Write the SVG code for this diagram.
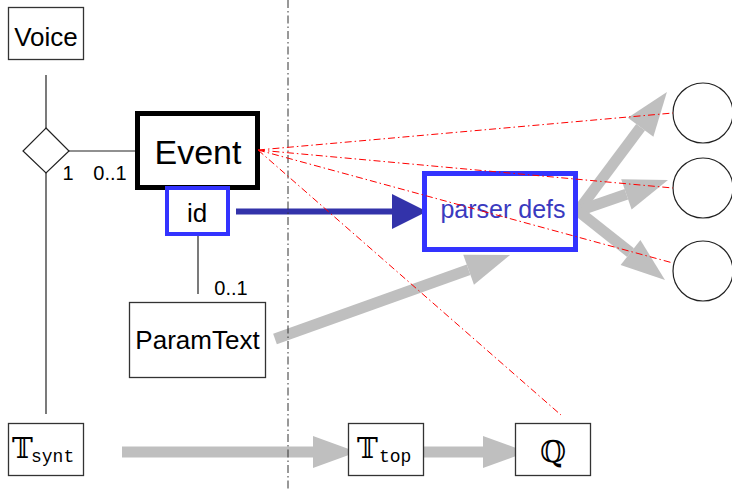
<svg xmlns="http://www.w3.org/2000/svg" width="732" height="491" viewBox="0 0 732 491">
<style>
.box{fill:#fff;stroke:#333;stroke-width:1.3}
.ln{stroke:#222;stroke-width:1.2;fill:none}
.t{font-family:"Liberation Sans","DejaVu Sans",sans-serif;fill:#000;text-anchor:middle}
.dbl{font-family:"DejaVu Serif","DejaVu Sans",serif;fill:#000;font-weight:normal}
.mono{font-family:"Liberation Mono","DejaVu Sans Mono",monospace;fill:#000}
.gray{stroke:#bfbfbf;stroke-width:11;fill:none;marker-end:url(#gh)}
.red{stroke:#ff0000;stroke-width:1;fill:none;stroke-dasharray:7,3,1.5,3}
</style>
<defs>
<marker id="gh" markerUnits="strokeWidth" markerWidth="4" markerHeight="3" refX="0" refY="1.45" orient="auto" overflow="visible">
<path d="M0,0 L4,1.45 L0,2.9 z" fill="#bfbfbf"/>
</marker>
</defs>
<g id="connectors">
<line class="ln" x1="46" y1="75" x2="46" y2="128"/>
<line class="ln" x1="46" y1="173" x2="46" y2="414"/>
<line class="ln" x1="69" y1="151" x2="136" y2="151"/>
<line class="ln" x1="198" y1="236" x2="198" y2="294"/>
<line class="gray" x1="122" y1="452" x2="313" y2="452"/>
<line class="gray" x1="424" y1="452" x2="483" y2="452"/>
<line class="gray" x1="275" y1="339" x2="468.6" y2="269.8"/>
<line class="gray" x1="578" y1="211" x2="640.6" y2="127.2"/>
<line class="gray" x1="578" y1="211" x2="626.4" y2="194.3"/>
<line class="gray" x1="578" y1="211" x2="630.5" y2="252.6"/>
<line x1="236" y1="211.5" x2="395" y2="211.5" stroke="#3333aa" stroke-width="6"/>
<polygon points="392,194 427,211.5 392,229" fill="#3333aa"/>
</g>
<g id="voice"><rect class="box" x="8.5" y="7.5" width="75" height="52"/><text class="t" x="46" y="46" font-size="26">Voice</text></g>
<g id="diamond"><polygon points="46,128 69,151 46,173 23,151" fill="#fff" stroke="#222" stroke-width="1.2"/></g>
<g id="mult1"><text class="t" x="68" y="180" font-size="20">1</text><text class="t" x="110" y="180" font-size="20">0..1</text></g>
<g id="event"><rect x="137.5" y="113.5" width="120" height="74" fill="#fff" stroke="#000" stroke-width="5"/><text class="t" x="198" y="164" font-size="34">Event</text></g>
<g id="id"><rect x="167" y="188" width="61" height="46" fill="#fff" stroke="#3333ff" stroke-width="4"/><text class="t" x="197" y="222" font-size="26">id</text></g>
<g id="mult2"><text class="t" x="231" y="295" font-size="20">0..1</text></g>
<g id="paramtext"><rect class="box" x="129.5" y="302.5" width="136" height="75"/><text class="t" x="197.5" y="349" font-size="26">ParamText</text></g>
<g id="parserdefs"><rect x="424.5" y="173.5" width="151" height="76" fill="#fff" stroke="#3333ff" stroke-width="5"/><text class="t" x="503" y="218" font-size="25" style="fill:#3a3abf">parser defs</text></g>
<g id="c1"><circle cx="703" cy="113" r="30" fill="#fff" stroke="#222" stroke-width="1.2"/></g>
<g id="c2"><circle cx="703" cy="188" r="30" fill="#fff" stroke="#222" stroke-width="1.2"/></g>
<g id="c3"><circle cx="703" cy="271" r="30" fill="#fff" stroke="#222" stroke-width="1.2"/></g>
<g id="tsynt"><rect class="box" x="8.5" y="423.5" width="75" height="52"/><text x="12" y="458" font-size="28" class="dbl">𝕋</text><text x="31" y="462" font-size="18" class="mono">synt</text></g>
<g id="ttop"><rect class="box" x="348.5" y="423.5" width="75" height="52"/><text x="357" y="458" font-size="28" class="dbl">𝕋</text><text x="379" y="462" font-size="18" class="mono">top</text></g>
<g id="q"><rect class="box" x="515.5" y="423.5" width="75" height="52"/><text x="553" y="462" font-size="30" class="dbl" text-anchor="middle">ℚ</text></g>
<g id="overlay">
<line x1="288" y1="0" x2="288" y2="491" stroke="#333" stroke-width="1" stroke-dasharray="8,3,1.5,3"/>
<line class="red" x1="258" y1="150" x2="673" y2="113"/>
<line class="red" x1="258" y1="150" x2="673" y2="188"/>
<line class="red" x1="258" y1="150" x2="673" y2="263"/>
<line class="red" x1="258" y1="150" x2="561" y2="415"/>
</g>
</svg>
